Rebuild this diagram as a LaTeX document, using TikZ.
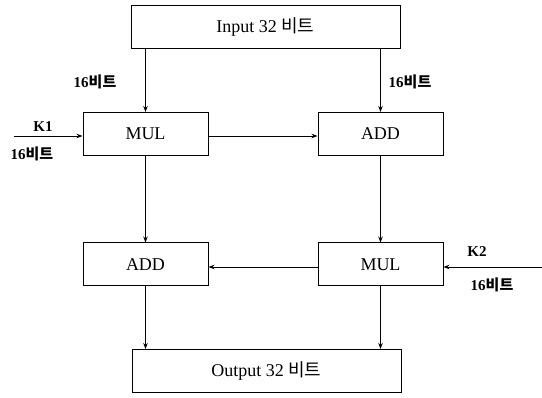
\documentclass[tikz,border=0pt]{standalone}
\usepackage{fontspec}
\setmainfont{Liberation Serif}
\newfontfamily\kr{Noto Sans CJK KR}
\usetikzlibrary{arrows.meta}
\begin{document}
\begin{tikzpicture}[x=1pt,y=-1pt,
  box/.style={draw, line width=1pt, inner sep=0pt, font=\fontsize{18}{20}\selectfont},
  bigbox/.style={box, minimum width=269pt, minimum height=43pt},
  smallbox/.style={box, minimum width=125pt, minimum height=43pt},
  lbl/.style={font=\fontsize{15}{17}\selectfont\bfseries, inner sep=0pt},
  arr/.style={line width=0.9pt, -{Stealth[length=6pt,width=4.5pt]}}]
\useasboundingbox (0,0) rectangle (542,398);
\node[bigbox] (in) at (265.5,27) {Input 32 {\kr 비트}};
\node[smallbox] (mul1) at (145.5,134) {MUL};
\node[smallbox] (add1) at (380.5,134) {ADD};
\node[smallbox] (add2) at (145.5,264.5) {ADD};
\node[smallbox] (mul2) at (380.5,264.5) {MUL};
\node[bigbox] (out) at (266.5,371) {Output 32 {\kr 비트}};
\coordinate (k1) at (14,136);
\coordinate (k2) at (542,267);
\draw[arr] (in.south -| mul1) -- (mul1.north);
\draw[arr] (in.south -| add1) -- (add1.north);
\draw[arr] (k1) -- (k1 -| mul1.west);
\draw[arr] (mul1.east |- k1) -- (add1.west |- k1);
\draw[arr] (mul1.south) -- (add2.north);
\draw[arr] (add1.south) -- (mul2.north);
\draw[arr] (k2) -- (k2 -| mul2.east);
\draw[arr] (mul2.west |- k2) -- (add2.east |- k2);
\draw[arr] (add2.south) -- (out.north -| add2);
\draw[arr] (mul2.south) -- (out.north -| mul2);
\node[lbl] (l1) at (95,82) {16{\kr 비트}};
\node[lbl] (l2) at (410,82) {16{\kr 비트}};
\node[lbl] (k1l) at (43,127) {K1};
\node[lbl] (l3) at (32,154) {16{\kr 비트}};
\node[lbl] (k2l) at (477,252) {K2};
\node[lbl] (l4) at (492,285) {16{\kr 비트}};
\end{tikzpicture}
\end{document}
